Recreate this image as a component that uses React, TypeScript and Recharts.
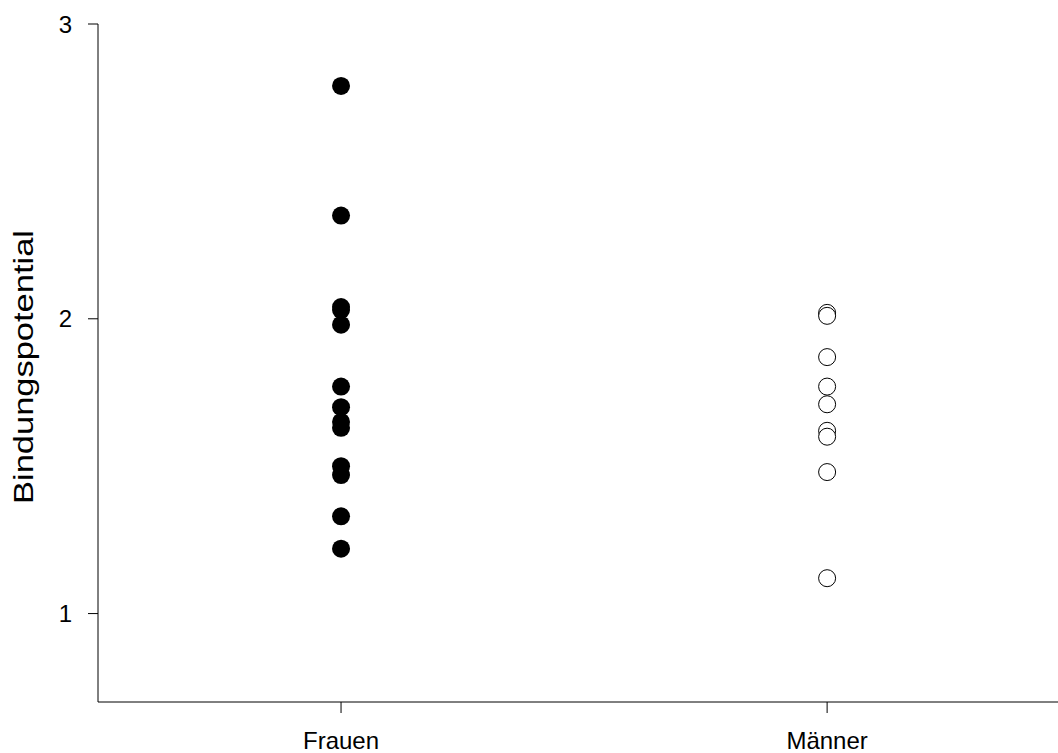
import React from 'react';
import { ScatterChart, Scatter, XAxis, YAxis, Label } from 'recharts';

const CATEGORIES = ['Frauen', 'Männer'];

// Bindungspotential
const FRAUEN = [2.79, 2.35, 2.04, 2.03, 1.98, 1.77, 1.70, 1.65, 1.63, 1.50, 1.47, 1.33, 1.22];
const MAENNER = [2.02, 2.01, 1.87, 1.77, 1.71, 1.62, 1.60, 1.48, 1.12];

const Y_TICKS = [1, 2, 3];

const frauenData = FRAUEN.map((v) => ({ x: 1, y: v }));
const maennerData = MAENNER.map((v) => ({ x: 2, y: v }));

const FONT = '"Liberation Sans", Arial, sans-serif';

const FilledDot = (props: any) => {
  const { cx, cy } = props;
  return <circle cx={cx} cy={cy} r={9} fill="#000" />;
};

const OpenDot = (props: any) => {
  const { cx, cy } = props;
  return <circle cx={cx} cy={cy} r={8.5} fill="#fff" stroke="#000" strokeWidth={1} />;
};

const YLabel = () => (
  <text
    x={33}
    y={367}
    transform="rotate(-90 33 367)"
    textAnchor="middle"
    fontFamily={FONT}
    fontSize={28}
    fill="#000"
    textLength={274}
    lengthAdjust="spacingAndGlyphs"
  >
    Bindungspotential
  </text>
);

export default function App() {
  return (
    <div style={{ position: 'absolute', left: 0, top: 0, background: '#fff' }}>
      <ScatterChart
        width={1058}
        height={753}
        margin={{ top: 24, right: 0, bottom: 0, left: 0 }}
      >
        <XAxis
          type="number"
          dataKey="x"
          domain={[0.5, 2.475]}
          ticks={[1, 2]}
          tickFormatter={(v: number) => CATEGORIES[v - 1] ?? ''}
          height={51}
          allowDataOverflow
          stroke="#000"
          tickSize={11}
          tickMargin={19}
          tick={{ fill: '#000', fontSize: 24, fontFamily: FONT }}
        />
        <YAxis
          type="number"
          dataKey="y"
          domain={[0.7, 3]}
          ticks={Y_TICKS}
          width={98}
          allowDataOverflow
          stroke="#000"
          tickSize={10}
          tickMargin={16}
          tick={{ fill: '#000', fontSize: 24, fontFamily: FONT }}
        >
          <Label content={<YLabel />} />
        </YAxis>
        <Scatter data={frauenData} shape={<FilledDot />} isAnimationActive={false} />
        <Scatter data={maennerData} shape={<OpenDot />} isAnimationActive={false} />
      </ScatterChart>
    </div>
  );
}
